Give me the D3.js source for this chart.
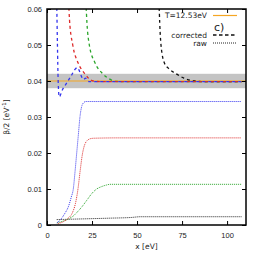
<!DOCTYPE html>
<html>
<head>
<meta charset="utf-8">
<script src="https://cdn.jsdelivr.net/npm/d3@7"></script>
<style>
  body { margin: 0; background: #fff; }
  svg { display: block; font-family: "DejaVu Sans", sans-serif; }
</style>
</head>
<body>
<div id="chart"></div>
<script>
// values
const xTicks = [0, 25, 50, 75, 100];
const yTicks = [0, 0.01, 0.02, 0.03, 0.04, 0.05, 0.06];
const tempLabel = 'T=12.53eV';
const bandLow = 0.038, bandHigh = 0.042, bandRef = 0.04;

// raw (dotted)
const rawBlue = [[5.5,0.0006],[8,0.0018],[10,0.0033],[11.8,0.005],[13.5,0.0078],[14.6,0.01],[15.6,0.015],[16.5,0.02],[17.4,0.025],[18.3,0.03],[19.2,0.0328],[20.2,0.0339],[21.5,0.0343],[30,0.0343],[108,0.0343]];
const rawRed = [[6,0.0004],[9,0.0009],[11.8,0.0019],[14,0.0033],[15.8,0.006],[17.2,0.01],[18.4,0.015],[19.6,0.0195],[20.6,0.0218],[21.7,0.0231],[22.9,0.0237],[24.3,0.024],[26,0.0241],[40,0.0242],[108,0.0242]];
const rawGreen = [[5.5,0.0006],[9,0.0011],[12,0.0017],[14.6,0.0025],[17,0.0037],[19.3,0.005],[22,0.0068],[25,0.0088],[27.6,0.01],[30.5,0.0107],[33,0.0111],[35,0.0113],[108,0.0113]];
const rawBlack = [[5.4,0.0015],[20,0.0017],[35,0.0019],[47,0.0021],[52,0.0023],[108,0.0023]];

// corrected (dashed)
const corBlue = [[5.4,0.062],[5.8,0.05],[6.2,0.04],[6.8,0.0356],[8.5,0.0375],[11,0.0395],[13.5,0.0415],[15.5,0.0432],[16.8,0.0437],[18,0.0428],[19.2,0.0412],[20.3,0.0404],[21.3,0.0408],[22.3,0.0403],[23.5,0.0398],[30,0.0398],[108,0.0398]];
const corRed = [[12,0.062],[12.5,0.057],[14.3,0.05],[17.3,0.045],[21,0.042],[23.2,0.0407],[25.6,0.0400],[30,0.0398],[108,0.0398]];
const corGreen = [[21.6,0.062],[22.2,0.056],[23.5,0.05],[26.7,0.045],[31,0.042],[34.5,0.0406],[38,0.0399],[45,0.0398],[108,0.0398]];
const corBlack = [[62.2,0.062],[62.6,0.056],[63.3,0.05],[65.2,0.045],[68,0.0433],[71.7,0.042],[76,0.0408],[81.7,0.0400],[90,0.0398],[108,0.0398]];

const series = [
  { data: rawBlack, color: '#222', kind: 'raw' },
  { data: rawGreen, color: '#2aa52a', kind: 'raw' },
  { data: rawRed, color: '#dd2a2a', kind: 'raw' },
  { data: rawBlue, color: '#3535ee', kind: 'raw' },
  { data: corBlack, color: '#111', kind: 'cor' },
  { data: corGreen, color: '#2aa52a', kind: 'cor' },
  { data: corRed, color: '#dd2a2a', kind: 'cor' },
  { data: corBlue, color: '#3535ee', kind: 'cor' }
];

const width = 262, height = 255;
const margin = { top: 9, right: 16, bottom: 30, left: 47 };
const iw = width - margin.left - margin.right;
const ih = height - margin.top - margin.bottom;

const svg = d3.select('#chart').append('svg')
  .attr('width', width)
  .attr('height', height);

svg.append('defs').append('clipPath').attr('id', 'clip')
  .append('rect').attr('width', iw).attr('height', ih);

const g = svg.append('g').attr('transform', `translate(${margin.left},${margin.top})`);

const x = d3.scaleLinear().domain([0, 110.5]).range([0, iw]);
const y = d3.scaleLinear().domain([0, 0.06]).range([ih, 0]);

const plot = g.append('g').attr('clip-path', 'url(#clip)');

// grey band and reference line
plot.append('rect')
  .attr('x', 0).attr('width', iw)
  .attr('y', y(bandHigh)).attr('height', y(bandLow) - y(bandHigh))
  .attr('fill', '#c4c4c4');
plot.append('line')
  .attr('x1', 0).attr('x2', iw)
  .attr('y1', y(bandRef)).attr('y2', y(bandRef))
  .attr('stroke', '#f5a623').attr('stroke-width', 1);

const line = d3.line()
  .x(d => x(d[0]))
  .y(d => y(d[1]))
  .curve(d3.curveMonotoneX);

series.forEach(s => {
  plot.append('path')
    .attr('d', line(s.data))
    .attr('fill', 'none')
    .attr('stroke', s.color)
    .attr('stroke-width', s.kind === 'raw' ? 1 : 1.3)
    .attr('stroke-dasharray', s.kind === 'raw' ? '1,1' : '3,3');
});

// axes with inward ticks, mirrored
const tickStyle = sel => {
  sel.select('.domain').remove();
  sel.selectAll('line').attr('stroke', '#000');
  sel.selectAll('text').attr('fill', '#222').style('font-size', '7.5px');
};

g.append('g').attr('transform', `translate(0,${ih})`)
  .call(d3.axisBottom(x).tickValues(xTicks).tickSize(-4).tickPadding(8).tickFormat(d3.format('d')))
  .call(tickStyle);
g.append('g')
  .call(d3.axisTop(x).tickValues(xTicks).tickSize(-4).tickFormat(''))
  .call(tickStyle);
g.append('g')
  .call(d3.axisLeft(y).tickValues(yTicks).tickSize(-4).tickPadding(5)
    .tickFormat(d => d === 0 ? '0' : d3.format('.2f')(d)))
  .call(tickStyle);
g.append('g').attr('transform', `translate(${iw},0)`)
  .call(d3.axisRight(y).tickValues(yTicks).tickSize(-4).tickFormat(''))
  .call(tickStyle);

g.append('rect')
  .attr('width', iw).attr('height', ih)
  .attr('fill', 'none').attr('stroke', '#000').attr('stroke-width', 1.5);

// axis titles
svg.append('text')
  .attr('x', margin.left + iw / 2).attr('y', 249)
  .attr('text-anchor', 'middle')
  .attr('fill', '#222').style('font-size', '7.5px')
  .text('x [eV]');

const yl = svg.append('text')
  .attr('transform', `translate(9,${margin.top + ih / 2}) rotate(-90)`)
  .attr('text-anchor', 'middle')
  .attr('fill', '#222').style('font-size', '7.5px');
yl.append('tspan').text('β/2 [eV');
yl.append('tspan').attr('dy', -3).style('font-size', '5.5px').text('-1');
yl.append('tspan').attr('dy', 3).text(']');

// legend
const legend = svg.append('g');
const rows = [
  { label: tempLabel, y: 18, color: '#f5a623', dash: null, w: 1.2 },
  { label: 'corrected', y: 37.5, color: '#111', dash: '3.5,2.5', w: 1.3 },
  { label: 'raw', y: 45.5, color: '#222', dash: '1,1', w: 1 }
];
rows.forEach(r => {
  legend.append('text')
    .attr('x', 207).attr('y', r.y)
    .attr('text-anchor', 'end')
    .attr('fill', '#222').style('font-size', '7.5px')
    .text(r.label);
  legend.append('line')
    .attr('x1', 213).attr('x2', 237)
    .attr('y1', r.y - 2.5).attr('y2', r.y - 2.5)
    .attr('stroke', r.color).attr('stroke-width', r.w)
    .attr('stroke-dasharray', r.dash);
});
legend.append('text')
  .attr('x', 214).attr('y', 31)
  .attr('fill', '#222').style('font-size', '11px')
  .text('c)');
</script>
</body>
</html>
